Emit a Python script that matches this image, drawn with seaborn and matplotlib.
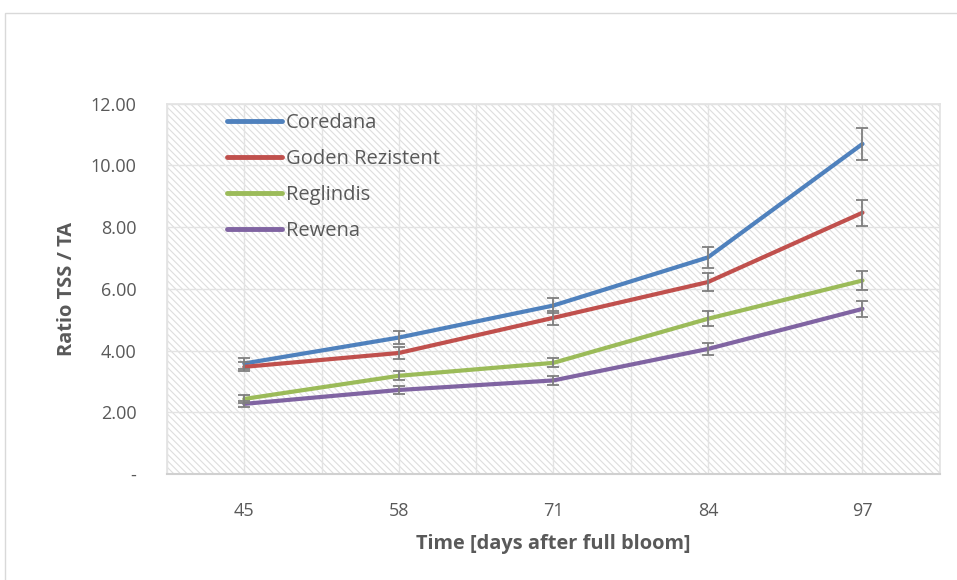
import matplotlib.pyplot as plt
import matplotlib.patches as mpatches
import seaborn as sns
import pandas as pd
import numpy as np

# Datos
dias = [45, 58, 71, 84, 97]
variedades = ["Coredana", "Goden Rezistent", "Reglindis", "Rewena"]
coredana = [3.58, 4.42, 5.46, 7.02, 10.70]
goden = [3.47, 3.92, 5.06, 6.22, 8.47]
reglindis = [2.43, 3.18, 3.60, 5.03, 6.27]
rewena = [2.27, 2.72, 3.03, 4.05, 5.35]
err_coredana = [0.18, 0.22, 0.25, 0.35, 0.53]
err_goden = [0.15, 0.20, 0.22, 0.30, 0.42]
err_reglindis = [0.12, 0.15, 0.15, 0.25, 0.30]
err_rewena = [0.10, 0.14, 0.15, 0.18, 0.26]

colores = ["#4F81BD", "#C0504D", "#9BBB59", "#8064A2"]

df = pd.DataFrame({
    "Dia": dias * 4,
    "Variedad": np.repeat(variedades, len(dias)),
    "Ratio": coredana + goden + reglindis + rewena,
    "Error": err_coredana + err_goden + err_reglindis + err_rewena,
})

sns.set_theme(style="white")
plt.rcParams["font.family"] = ["Open Sans", "DejaVu Sans"]
plt.rcParams["hatch.linewidth"] = 0.8
plt.rcParams["hatch.color"] = "#dedede"

fig = plt.figure(figsize=(9.57, 5.8), dpi=100)
ax = fig.add_axes([0.1745, 0.183, 0.8075, 0.638])

# borde del área del gráfico
fig.patches.append(mpatches.Rectangle((0.005, -0.01), 1.0, 0.988, transform=fig.transFigure,
                                      fill=False, edgecolor="#d9d9d9", linewidth=1))

# fondo rayado
ax.add_patch(mpatches.Rectangle((0, 0), 1, 1, transform=ax.transAxes, facecolor="white",
                                edgecolor="#dedede", hatch="\\\\\\\\\\", linewidth=0, zorder=0))

sns.lineplot(data=df, x="Dia", y="Ratio", hue="Variedad", palette=colores,
             linewidth=3, ax=ax, zorder=3)
for var in variedades:
    sub = df[df["Variedad"] == var]
    ax.errorbar(sub["Dia"], sub["Ratio"], yerr=sub["Error"], fmt="none",
                ecolor="#7f7f7f", elinewidth=1.3, capsize=4, capthick=1.3, zorder=4)

ax.set_xlim(38.5, 103.5)
ax.set_ylim(0, 12)
ax.set_xticks(dias)
ax.set_xticks(np.arange(38.5, 104, 6.5), minor=True)
ax.set_yticks(np.arange(0, 13, 2))
ax.set_yticklabels(["-"] + [f"{v:.2f}" for v in np.arange(2, 13, 2)])
ax.grid(True, which="both", axis="x", color="#e3e3e3", linewidth=1, zorder=1)
ax.grid(True, which="major", axis="y", color="#e3e3e3", linewidth=1, zorder=1)
ax.set_axisbelow(True)
ax.tick_params(axis="both", which="both", length=0, labelsize=13, labelcolor="#595959")
ax.tick_params(axis="y", pad=22)
ax.tick_params(axis="x", pad=20)
for s in ax.spines.values():
    s.set_color("#e3e3e3")
ax.spines["bottom"].set_color("#d0d0d0")
ax.spines["bottom"].set_linewidth(1.5)

ax.set_xlabel("Time [days after full bloom]", fontsize=14.4, fontweight="bold", color="#595959", labelpad=10)
ax.set_ylabel("Ratio TSS / TA", fontsize=14.4, fontweight="bold", color="#595959", labelpad=10)

leg = ax.legend(loc="upper left", bbox_to_anchor=(0.078, 0.975), frameon=False, fontsize=14.5,
                borderaxespad=0, borderpad=0, handlelength=2.7, handletextpad=0.2,
                labelspacing=0.8, labelcolor="#595959")
for line in leg.get_lines():
    line.set_linewidth(3.5)

plt.savefig("out.png", dpi=100)
